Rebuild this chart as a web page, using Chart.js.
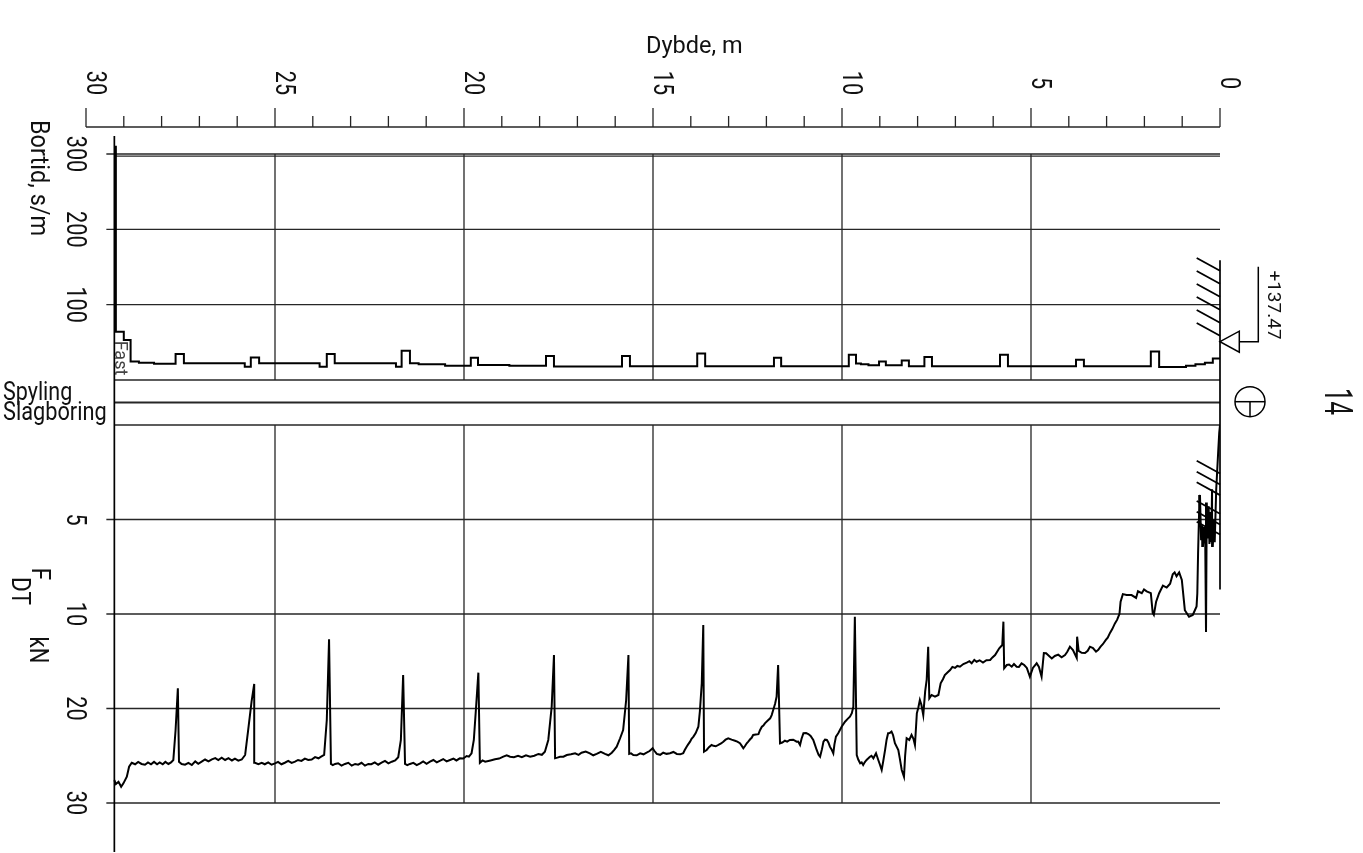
<!DOCTYPE html>
<html>
<head>
<meta charset="utf-8">
<title>Totalsondering 14</title>
<script src="https://cdn.jsdelivr.net/npm/chart.js@4.4.1/dist/chart.umd.min.js"></script>
<style>
  html, body { margin: 0; padding: 0; background: #fff; }
  #wrap { width: 1363px; height: 853px; position: relative; }
</style>
</head>
<body>
<div id="wrap"><canvas id="log"></canvas></div>
<script>
// Depth axis (m) along the top
const depthMajor = [0, 5, 10, 15, 20, 25, 30];
const depthMinor = [1, 2, 3, 4, 6, 7, 8, 9, 11, 12, 13, 14, 16, 17, 18, 19, 21, 22, 23, 24, 26, 27, 28, 29];
const bortidTicks = [100, 200, 300];
const fdtTicks = [5, 10, 20, 30];

// Bortid (s/m), step values: from each depth onward
const bortidDepth = [0.00, 0.19, 0.40, 0.65, 0.90, 1.61, 1.83, 3.60, 3.81, 5.61, 5.82, 7.62, 7.82, 8.23, 8.42, 8.84, 9.02, 9.30, 9.50, 9.63,
  9.82, 11.61, 11.80, 13.62, 13.83, 15.61, 15.82, 17.62, 17.83, 18.80, 19.63, 19.82, 20.50, 21.20, 21.43, 21.65, 21.80, 23.42, 23.63, 23.82,
  25.42, 25.64, 25.80, 27.41, 27.63, 28.20, 28.60, 28.82, 29.00, 29.21];
const bortidSecPerM = [28.5, 23, 21, 19, 17.3, 37.8, 18.2, 27, 18.2, 33.5, 18.2, 30.5, 18.2, 26, 19.6, 24.6, 19.6, 20.8, 22, 33.5,
  18.2, 29.5, 18.2, 35.3, 18.2, 31.8, 18, 31.8, 19, 20, 29.4, 19, 21, 22.3, 38.9, 17.5, 22.3, 34.6, 17.5, 22.3,
  29.9, 17.5, 22.3, 34.6, 21.4, 23, 24.7, 53, 64, 311];

// Dreietrykk F_DT (kN) against depth (m)
const fdtDepth = [
  0.00, 0.02, 0.05, 0.10, 0.14, 0.16, 0.19, 0.21, 0.23, 0.25, 0.28, 0.30, 0.33, 0.35, 0.37, 0.39, 0.42, 0.45, 0.47, 0.50,
  0.53, 0.55, 0.58, 0.60, 0.62, 0.72, 0.82, 0.93, 1.01, 1.08, 1.15, 1.20, 1.25, 1.32, 1.41, 1.51, 1.61, 1.69, 1.75, 1.78,
  1.83, 1.94, 2.01, 2.07, 2.17, 2.22, 2.34, 2.47, 2.57, 2.63, 2.66, 2.72, 2.78, 2.85, 2.91, 2.97, 3.02, 3.10, 3.16, 3.22,
  3.28, 3.36, 3.44, 3.50, 3.57, 3.66, 3.74, 3.78, 3.79, 3.89, 3.97, 4.04, 4.10, 4.19, 4.28, 4.37, 4.45, 4.50, 4.60, 4.66,
  4.72, 4.79, 4.85, 4.95, 5.03, 5.11, 5.18, 5.25, 5.32, 5.38, 5.45, 5.51, 5.58, 5.64, 5.71, 5.73, 5.76, 5.84, 5.95, 6.02,
  6.08, 6.18, 6.27, 6.36, 6.44, 6.50, 6.57, 6.63, 6.70, 6.79, 6.88, 6.95, 7.01, 7.08, 7.14, 7.21, 7.28, 7.33, 7.39, 7.45,
  7.54, 7.63, 7.69, 7.72, 7.76, 7.80, 7.85, 7.90, 7.94, 7.98, 8.02, 8.07, 8.11, 8.16, 8.22, 8.29, 8.33, 8.36, 8.42, 8.47,
  8.51, 8.60, 8.65, 8.69, 8.74, 8.78, 8.82, 8.86, 8.91, 8.95, 9.00, 9.04, 9.10, 9.17, 9.22, 9.26, 9.31, 9.35, 9.40, 9.44,
  9.48, 9.52, 9.57, 9.61, 9.66, 9.70, 9.74, 9.79, 9.85, 9.92, 10.01, 10.10, 10.16, 10.20, 10.23, 10.28, 10.32, 10.36, 10.40, 10.45,
  10.49, 10.53, 10.58, 10.62, 10.67, 10.72, 10.76, 10.83, 10.89, 10.95, 11.02, 11.07, 11.11, 11.16, 11.20, 11.29, 11.38, 11.45, 11.51, 11.58,
  11.64, 11.69, 11.73, 11.77, 11.82, 11.86, 11.90, 11.97, 12.04, 12.08, 12.12, 12.17, 12.21, 12.28, 12.35, 12.39, 12.43, 12.48, 12.52, 12.57,
  12.61, 12.66, 12.70, 12.77, 12.83, 12.92, 13.01, 13.08, 13.14, 13.20, 13.27, 13.34, 13.40, 13.45, 13.52, 13.58, 13.62, 13.65, 13.67, 13.71,
  13.76, 13.80, 13.87, 13.93, 13.98, 14.02, 14.07, 14.11, 14.16, 14.20, 14.28, 14.37, 14.46, 14.55, 14.64, 14.73, 14.81, 14.90, 14.96, 15.01,
  15.09, 15.17, 15.25, 15.34, 15.43, 15.52, 15.58, 15.63, 15.65, 15.71, 15.79, 15.87, 15.96, 16.03, 16.09, 16.18, 16.27, 16.38, 16.49, 16.58,
  16.67, 16.78, 16.89, 16.97, 17.06, 17.17, 17.28, 17.37, 17.46, 17.53, 17.59, 17.62, 17.68, 17.77, 17.86, 17.94, 18.03, 18.14, 18.25, 18.36,
  18.47, 18.57, 18.68, 18.78, 18.87, 18.96, 19.07, 19.18, 19.30, 19.44, 19.51, 19.58, 19.62, 19.68, 19.74, 19.80, 19.87, 19.93, 20.02, 20.11,
  20.20, 20.28, 20.37, 20.46, 20.55, 20.63, 20.72, 20.81, 20.90, 20.99, 21.08, 21.16, 21.25, 21.34, 21.43, 21.50, 21.56, 21.61, 21.67, 21.74,
  21.82, 21.91, 22.00, 22.09, 22.18, 22.27, 22.36, 22.45, 22.53, 22.62, 22.71, 22.80, 22.88, 22.97, 23.06, 23.15, 23.24, 23.33, 23.41, 23.47,
  23.52, 23.57, 23.63, 23.70, 23.78, 23.85, 23.94, 24.03, 24.12, 24.21, 24.30, 24.39, 24.47, 24.56, 24.65, 24.74, 24.83, 24.92, 25.00, 25.09,
  25.18, 25.27, 25.35, 25.44, 25.53, 25.55, 25.62, 25.71, 25.79, 25.88, 25.97, 26.06, 26.14, 26.23, 26.32, 26.41, 26.50, 26.58, 26.67, 26.76,
  26.85, 26.94, 27.03, 27.11, 27.20, 27.29, 27.38, 27.47, 27.54, 27.57, 27.63, 27.69, 27.75, 27.82, 27.90, 27.97, 28.05, 28.12, 28.20, 28.28,
  28.36, 28.44, 28.53, 28.62, 28.70, 28.79, 28.86, 28.92, 29.01, 29.07, 29.14, 29.21, 29.25];
const fdtKN = [
  0.0, 0.4, 1.5, 3.4, 6.2, 5.0, 6.4, 3.4, 6.2, 4.6, 6.3, 4.3, 6.0, 4.1, 11.9, 6.3, 5.4, 6.4, 5.3, 6.1,
  3.7, 4.4, 6.8, 8.9, 9.6, 10.1, 10.3, 9.8, 8.2, 7.8, 8.0, 7.8, 7.9, 8.4, 8.6, 8.5, 8.9, 9.35, 10.1, 9.95,
  8.9, 8.8, 8.7, 8.9, 8.8, 9.15, 9.0, 9.0, 8.95, 9.35, 10.0, 10.6, 11.0, 11.6, 12.0, 12.5, 12.75, 13.2, 13.46, 13.8,
  13.99, 13.6, 13.46, 13.9, 14.13, 14.1, 13.9, 12.4, 14.66, 13.81, 13.46, 14.0, 14.34, 14.58, 14.3, 14.44, 14.7, 14.52, 14.16, 14.13,
  16.63, 15.6, 15.22, 15.71, 16.63, 15.71, 15.4, 15.22, 15.6, 15.58, 15.3, 15.58, 15.35, 15.4, 15.75, 10.81, 13.28, 13.63, 14.34, 14.6,
  14.87, 14.9, 15.15, 14.9, 15.05, 14.85, 15.22, 15.0, 15.15, 15.3, 15.58, 15.5, 15.71, 15.6, 15.93, 16.2, 16.46, 16.9, 17.33, 18.57,
  18.75, 18.57, 18.92, 13.46, 16.98, 18.2, 20.69, 19.6, 19.1, 19.9, 20.51, 23.86, 23.2, 22.8, 23.33, 23.15, 25.0, 27.22, 26.51, 25.3,
  24.39, 23.68, 22.8, 22.45, 22.6, 22.62, 23.3, 24.39, 25.6, 26.51, 25.9, 25.45, 24.74, 25.27, 25.0, 25.10, 25.3, 25.45, 25.7, 25.98,
  25.7, 25.80, 25.4, 24.92, 10.29, 19.81, 20.5, 20.87, 21.1, 21.40, 21.93, 22.62, 22.98, 23.8, 24.74, 24.3, 24.04, 23.6, 23.33, 23.3,
  23.51, 24.3, 25.10, 24.9, 24.39, 23.8, 23.33, 22.9, 22.7, 22.6, 22.62, 23.2, 23.86, 23.5, 23.51, 23.3, 23.33, 23.5, 23.41, 23.6,
  23.68, 15.4, 18.75, 19.5, 20.16, 20.7, 21.04, 21.3, 21.57, 21.8, 21.93, 22.3, 22.72, 22.75, 22.8, 23.1, 23.26, 23.5, 23.68, 24.0,
  24.21, 23.9, 23.68, 23.5, 23.41, 23.3, 23.15, 23.3, 23.51, 23.7, 23.86, 24.0, 23.95, 23.86, 24.1, 24.39, 24.5, 24.57, 11.16, 17.33,
  20.3, 21.93, 22.6, 22.98, 23.2, 23.51, 23.8, 24.04, 24.4, 24.74, 24.85, 24.81, 24.6, 24.74, 24.8, 24.68, 24.9, 24.81, 24.5, 24.21,
  24.5, 24.68, 24.85, 24.74, 24.95, 24.92, 24.75, 24.81, 14.34, 19.10, 22.28, 23.15, 24.04, 24.4, 24.68, 24.95, 24.81, 24.6, 24.81, 24.95,
  24.74, 24.55, 24.68, 24.9, 24.74, 24.85, 24.92, 25.1, 25.10, 25.2, 25.27, 14.34, 19.81, 23.33, 24.57, 24.9, 24.81, 25.0, 25.10, 24.95,
  25.16, 25.0, 25.15, 25.10, 24.95, 25.10, 25.3, 25.38, 25.5, 25.63, 25.5, 25.74, 16.21, 19.81, 23.33, 24.74, 25.1, 25.03, 25.3, 25.27,
  25.5, 25.3, 25.45, 25.6, 25.35, 25.52, 25.7, 25.45, 25.63, 25.85, 25.6, 25.80, 26.0, 25.75, 25.87, 26.0, 25.87, 16.46, 23.33, 25.16,
  25.5, 25.63, 25.8, 25.55, 25.74, 25.95, 25.7, 25.9, 25.87, 26.05, 25.75, 25.95, 25.87, 26.05, 25.75, 25.87, 26.05, 25.8, 25.87, 26.0,
  25.87, 12.68, 21.22, 24.92, 25.1, 25.27, 25.15, 25.4, 25.45, 25.3, 25.55, 25.45, 25.63, 25.75, 25.55, 25.74, 25.9, 25.65, 25.80, 25.95,
  25.7, 25.9, 25.74, 25.9, 25.74, 17.41, 19.28, 22.28, 24.92, 25.4, 25.52, 25.3, 25.5, 25.25, 25.45, 25.2, 25.45, 25.25, 25.38, 25.6,
  25.4, 25.63, 25.85, 25.6, 25.98, 25.75, 25.95, 25.87, 25.63, 17.86, 22.28, 25.45, 25.7, 25.87, 25.65, 25.9, 25.7, 25.9, 25.65, 25.9,
  25.7, 25.95, 25.87, 25.65, 25.9, 25.74, 26.16, 27.22, 27.92, 28.28, 27.75, 27.99, 27.57];

// F_DT axis is stretched 2:1 below 10 kN
const fdtAxis = (kN) => (kN <= 10 ? kN : 10 + (kN - 10) / 2);

const FONT = '"Roboto", "DejaVu Sans", sans-serif';
const INK = "#111";
const GRID = "#262626";

// text drawn along the rotated sheet: baseline at x, centred on y
function vText(ctx, text, x, y, size, stretch, color) {
  ctx.save();
  ctx.translate(x, y);
  ctx.rotate(Math.PI / 2);
  ctx.scale(stretch, 1);
  ctx.font = `400 ${size}px ${FONT}`;
  ctx.fillStyle = color || INK;
  ctx.textAlign = "center";
  ctx.textBaseline = "alphabetic";
  ctx.fillText(text, 0, 0);
  ctx.restore();
}

function hText(ctx, text, x, y, size, stretch) {
  ctx.save();
  ctx.translate(x, y);
  ctx.scale(stretch, 1);
  ctx.font = `400 ${size}px ${FONT}`;
  ctx.fillStyle = INK;
  ctx.textAlign = "left";
  ctx.textBaseline = "alphabetic";
  ctx.fillText(text, 0, 0);
  ctx.restore();
}

function seg(ctx, x1, y1, x2, y2) {
  ctx.beginPath();
  ctx.moveTo(x1, y1);
  ctx.lineTo(x2, y2);
  ctx.stroke();
}

const logFrame = {
  id: "logFrame",
  beforeDatasetsDraw(chart) {
    const { ctx, chartArea } = chart;
    const { x, yB, yF } = chart.scales;
    const endDepth = fdtDepth[fdtDepth.length - 1];
    const left = x.getPixelForValue(endDepth);
    const right = x.getPixelForValue(0);
    const bTop = yB.getPixelForValue(300);
    const bBot = yB.getPixelForValue(0);
    const fTop = yF.getPixelForValue(0);
    const fBot = yF.getPixelForValue(fdtAxis(30));

    ctx.save();
    ctx.strokeStyle = GRID;
    ctx.lineWidth = 1.3;

    // depth axis on top
    const axisY = chartArea.top - 9;
    seg(ctx, x.getPixelForValue(30), axisY, right, axisY);
    depthMajor.forEach((d) => seg(ctx, x.getPixelForValue(d), axisY, x.getPixelForValue(d), axisY - 19));
    depthMinor.forEach((d) => seg(ctx, x.getPixelForValue(d), axisY, x.getPixelForValue(d), axisY - 11));

    // Bortid panel
    bortidTicks.forEach((v) => seg(ctx, left - 8, yB.getPixelForValue(v), right, yB.getPixelForValue(v)));
    seg(ctx, left, bTop + 2.2, right, bTop + 2.2);
    seg(ctx, left, bBot, right, bBot);
    depthMajor.filter((d) => d > 0 && d < 30).forEach((d) => {
      seg(ctx, x.getPixelForValue(d), bTop, x.getPixelForValue(d), bBot);
    });

    // Spyling / Slagboring strip
    ctx.lineWidth = 2.2;
    seg(ctx, left, (bBot + fTop) / 2, right, (bBot + fTop) / 2);
    ctx.lineWidth = 1.3;
    seg(ctx, left, fTop, right, fTop);

    // F_DT panel
    fdtTicks.forEach((v) => seg(ctx, left - 8, yF.getPixelForValue(fdtAxis(v)), right, yF.getPixelForValue(fdtAxis(v))));
    depthMajor.filter((d) => d > 0 && d < 30).forEach((d) => {
      seg(ctx, x.getPixelForValue(d), fTop, x.getPixelForValue(d), fBot);
    });

    // left edge at final depth, ground line at 0 m
    ctx.strokeStyle = "#000";
    ctx.lineWidth = 1.7;
    seg(ctx, left, chartArea.top, left, chartArea.bottom);
    seg(ctx, right, yB.getPixelForValue(159), right, yF.getPixelForValue(fdtAxis(8.7)));
    ctx.restore();
  },
  afterDatasetsDraw(chart) {
    const { ctx, chartArea } = chart;
    const { x, yB, yF } = chart.scales;
    const right = x.getPixelForValue(0);
    const axisY = chartArea.top - 9;

    ctx.save();
    // axis titles and tick labels
    hText(ctx, "Dybde, m", 646, 53, 24, 0.98);
    depthMajor.forEach((d) => vText(ctx, String(d), x.getPixelForValue(d) + 1, axisY - 44, 27, 0.8));
    bortidTicks.forEach((v) => vText(ctx, String(v), 67, yB.getPixelForValue(v), 27, 0.8));
    fdtTicks.forEach((v) => vText(ctx, String(v), 67, yF.getPixelForValue(fdtAxis(v)), 27, 0.8));
    vText(ctx, "Bortid, s/m", 31, 178, 25, 0.94);
    vText(ctx, "F", 32, 574, 25, 0.9);
    vText(ctx, "DT", 12, 591, 25, 0.9);
    vText(ctx, "kN", 30, 650, 25, 0.88);
    hText(ctx, "Spyling", 3, 400, 25, 0.86);
    hText(ctx, "Slagboring", 3, 420, 25, 0.87);
    vText(ctx, "Fast", chartArea.left + 29, 358, 19, 0.95, "#444");

    // ground hatching beside the 0 m line
    ctx.strokeStyle = "#000";
    ctx.lineWidth = 1.8;
    const hatchTop = [258, 271, 284, 297, 310, 323];
    const hatchLow = [460.7, 471.7, 482.3, 501, 511.7, 521.7];
    hatchTop.concat(hatchLow).forEach((y0) => seg(ctx, right - 23.3, y0, right, y0 + 12.8));

    // level marker +137.47
    ctx.lineWidth = 1.5;
    const lvl = 341.7;
    ctx.beginPath();
    ctx.moveTo(right, lvl);
    ctx.lineTo(right + 19.3, lvl - 10.5);
    ctx.lineTo(right + 19.3, lvl + 10.5);
    ctx.closePath();
    ctx.stroke();
    ctx.beginPath();
    ctx.moveTo(right + 19.3, lvl);
    ctx.lineTo(right + 38.3, lvl);
    ctx.lineTo(right + 38.3, lvl - 75);
    ctx.stroke();
    vText(ctx, "+137.47", right + 48, 305, 19, 1.0);

    // sounding symbol and borehole number
    const cx = right + 30, cy = 401.7, r = 15;
    ctx.beginPath();
    ctx.arc(cx, cy, r, 0, Math.PI * 2);
    ctx.stroke();
    seg(ctx, cx - r, cy, cx + r, cy);
    seg(ctx, cx, cy, cx, cy + r);
    vText(ctx, "14", right + 105, 401.5, 38, 0.63);
    ctx.restore();
  },
};

new Chart(document.getElementById("log"), {
  type: "line",
  data: {
    datasets: [
      {
        label: "Bortid",
        data: bortidDepth.map((d, i) => ({ x: d, y: bortidSecPerM[i] })),
        yAxisID: "yB",
        stepped: true,
        borderColor: "#000",
        borderWidth: 2,
        pointRadius: 0,
        fill: false,
      },
      {
        label: "F_DT",
        data: fdtDepth.map((d, i) => ({ x: d, y: fdtAxis(fdtKN[i]) })),
        yAxisID: "yF",
        borderColor: "#000",
        borderWidth: 2,
        pointRadius: 0,
        tension: 0,
        fill: false,
      },
    ],
  },
  options: {
    responsive: true,
    maintainAspectRatio: false,
    animation: false,
    events: [],
    layout: { padding: { left: 86, right: 143, top: 136, bottom: 1 } },
    plugins: { legend: { display: false }, tooltip: { enabled: false } },
    scales: {
      x: { type: "linear", min: 0, max: 30, reverse: true, display: false },
      yB: { type: "linear", min: -626.6, max: 323.9, display: false },
      yF: { type: "linear", min: -15.29, max: 22.593, reverse: true, display: false },
    },
  },
  plugins: [logFrame],
});
</script>
</body>
</html>
